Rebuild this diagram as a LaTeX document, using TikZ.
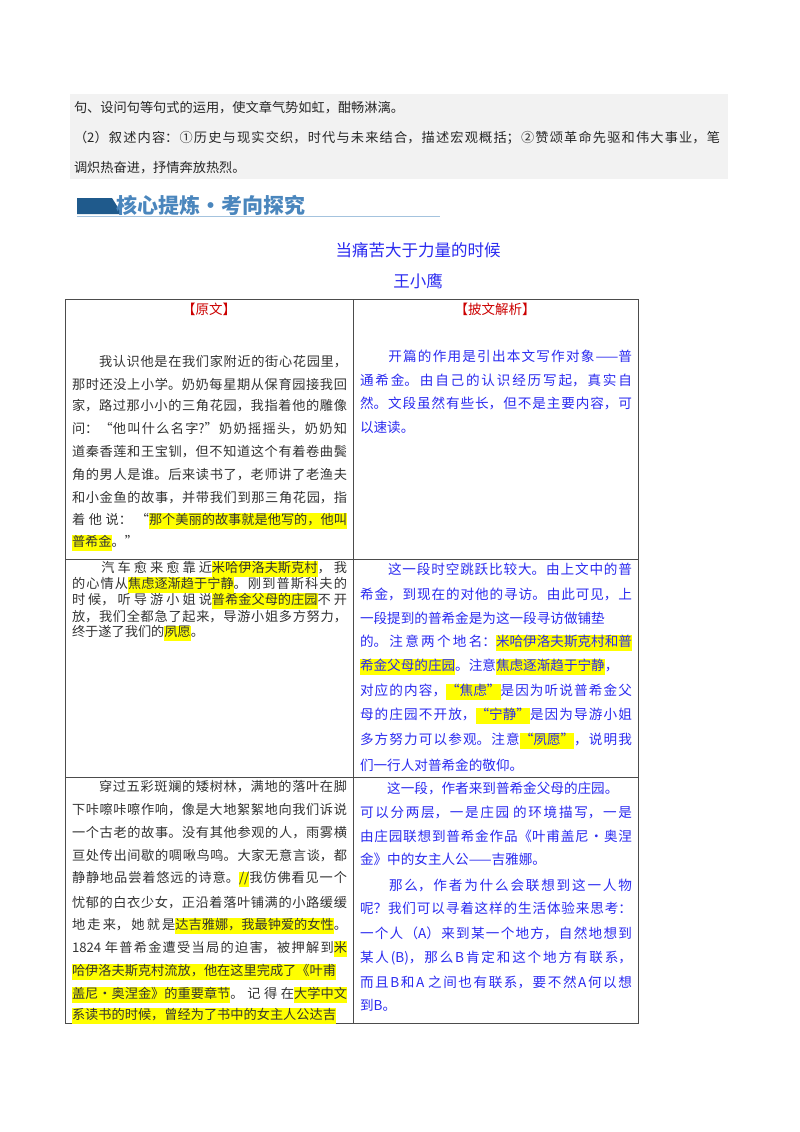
\documentclass[tikz,border=0pt]{standalone}
\usepackage{fontspec}
\setmainfont{Noto Sans CJK SC}
\usepackage{xcolor}
\definecolor{hly}{HTML}{FFFF00}
\definecolor{bt}{HTML}{2B2BF0}
\definecolor{gbox}{HTML}{F2F2F2}
\definecolor{hbar}{HTML}{1F5A8C}
\definecolor{htxt}{HTML}{4A86BD}
\newcommand\hl[1]{{\setlength\fboxsep{0pt}\colorbox{hly}{\strut #1}}}
\XeTeXlinebreaklocale "zh"
\XeTeXlinebreakskip=0pt plus 3pt
\begin{document}
\begin{tikzpicture}[x=1pt,y=-1pt,
  every node/.style={inner sep=0pt,outer sep=0pt},
  ln/.style={anchor=west,text width=#1,align=justify,execute at begin node={\parfillskip=0pt\relax}},
  ln/.default=275pt,
  lnl/.style={anchor=west,text width=#1,align=left},
  lnl/.default=275pt,
  lt/.style={font=\fontsize{13.2}{15}\selectfont,text=black!80},
  rt/.style={font=\fontsize{13.6}{15}\selectfont,text=bt},
  gt/.style={font=\fontsize{13.2}{15}\selectfont,text=black!85},
  tl/.style={draw=black!70,line width=0.9pt}]
\useasboundingbox (0,0) rectangle (800,1132);
\fill[white] (0,0) rectangle (800,1132);
% grey box
\fill[gbox] (70,94) rectangle (728,179);
\node[gt,lnl=646pt] (g1) at (74,108) {句、设问句等句式的运用，使文章气势如虹，酣畅淋漓。};
\node[gt,ln=646pt] (g2) at (74,138) {（2）叙述内容：①历史与现实交织，时代与未来结合，描述宏观概括；②赞颂革命先驱和伟大事业，笔};
\node[gt,lnl=646pt] (g3) at (74,168) {调炽热奋进，抒情奔放热烈。};
% header bar
\fill[hbar] (77,198) -- (112,198) -- (122,214) -- (77,214) -- cycle;
\draw[htxt!50,line width=0.8pt] (77,216) -- (440,216);
\node[anchor=west,font=\fontsize{21}{23}\selectfont\bfseries,text=htxt] (hd) at (116,205) {核心提炼·考向探究};
% title
\node[font=\fontsize{16.5}{18}\selectfont,text=bt] (t1) at (418,250) {当痛苦大于力量的时候};
\node[font=\fontsize{16.5}{18}\selectfont,text=bt] (t2) at (418,281) {王小鹰};
% table
\draw[tl] (65,299) rectangle (638,1023);
\draw[tl] (353,299) -- (353,1023);
\draw[tl] (65,559) -- (638,559);
\draw[tl] (65,777) -- (638,777);
\node[font=\fontsize{13.5}{15}\selectfont,text=red!80!black] (h1) at (209,309) {【原文】};
\node[font=\fontsize{13.5}{15}\selectfont,text=red!80!black] (h2) at (495,309) {【披文解析】};
% row1 left
\begin{scope}[every node/.append style={lt}]
\node[ln] (a1) at (72,362) {　　我认识他是在我们家附近的街心花园里，};
\node[ln] (a2) at (72,384) {那时还没上小学。奶奶每星期从保育园接我回};
\node[ln] (a3) at (72,406) {家，路过那小小的三角花园，我指着他的雕像};
\node[ln] (a4) at (72,429) {问：“他叫什么名字?”奶奶摇摇头，奶奶知};
\node[ln] (a5) at (72,452) {道秦香莲和王宝钏，但不知道这个有着卷曲鬓};
\node[ln] (a6) at (72,475) {角的男人是谁。后来读书了，老师讲了老渔夫};
\node[ln] (a7) at (72,498) {和小金鱼的故事，并带我们到那三角花园，指};
\node[ln] (a8) at (72,521) {着他说：“\hl{那个美丽的故事就是他写的，他叫}};
\node[lnl] (a9) at (72,543) {\hl{普希金}。”};
% row2 left
\node[ln] (b1) at (72,569) {　　汽车愈来愈靠近\hl{米哈伊洛夫斯克村}，我};
\node[ln] (b2) at (72,585) {的心情从\hl{焦虑逐渐趋于宁静}。刚到普斯科夫的};
\node[ln] (b3) at (72,601) {时候，听导游小姐说\hl{普希金父母的庄园}不开};
\node[ln] (b4) at (72,617) {放，我们全都急了起来，导游小姐多方努力，};
\node[lnl] (b5) at (72,633) {终于遂了我们的\hl{夙愿}。};
% row3 left
\node[ln] (c1) at (72,787) {　　穿过五彩斑斓的矮树林，满地的落叶在脚};
\node[ln] (c2) at (72,810) {下咔嚓咔嚓作响，像是大地絮絮地向我们诉说};
\node[ln] (c3) at (72,833) {一个古老的故事。没有其他参观的人，雨雾横};
\node[ln] (c4) at (72,856) {亘处传出间歇的啁啾鸟鸣。大家无意言谈，都};
\node[ln] (c5) at (72,879) {静静地品尝着悠远的诗意。\hl{//}我仿佛看见一个};
\node[ln] (c6) at (72,903) {忧郁的白衣少女，正沿着落叶铺满的小路缓缓};
\node[ln] (c7) at (72,926) {地走来，她就是\hl{达吉雅娜，我最钟爱的女性}。};
\node[ln] (c8) at (72,949) {1824 年普希金遭受当局的迫害，被押解到\hl{米}};
\node[ln] (c9) at (72,972) {\hl{哈伊洛夫斯克村流放，他在这里完成了《叶甫}};
\node[ln] (c10) at (72,995) {\hl{盖尼·奥涅金》的重要章节}。记得在\hl{大学中文}};
\node[ln] (c11) at (72,1016) {\hl{系读书的时候，曾经为了书中的女主人公达吉}};
\end{scope}
\begin{scope}[every node/.append style={rt}]
% row1 right
\node[ln=272pt] (d1) at (360,356) {　　开篇的作用是引出本文写作对象——普};
\node[ln=272pt] (d2) at (360,380) {通希金。由自己的认识经历写起，真实自};
\node[ln=272pt] (d3) at (360,403) {然。文段虽然有些长，但不是主要内容，可};
\node[lnl=272pt] (d4) at (360,427) {以速读。};
% row2 right
\node[ln=272pt] (e1) at (360,569) {　　这一段时空跳跃比较大。由上文中的普};
\node[ln=272pt] (e2) at (360,594) {希金，到现在的对他的寻访。由此可见，上};
\node[lnl=272pt] (e3) at (360,618) {一段提到的普希金是为这一段寻访做铺垫};
\node[ln=272pt] (e4) at (360,643) {的。注意两个地名：\hl{米哈伊洛夫斯克村和普}};
\node[lnl=272pt] (e5) at (360,667) {\hl{希金父母的庄园}。注意\hl{焦虑逐渐趋于宁静}，};
\node[ln=272pt] (e6) at (360,692) {对应的内容，\hl{“焦虑”}是因为听说普希金父};
\node[ln=272pt] (e7) at (360,716) {母的庄园不开放，\hl{“宁静”}是因为导游小姐};
\node[ln=272pt] (e8) at (360,741) {多方努力可以参观。注意\hl{“夙愿”}，说明我};
\node[lnl=272pt] (e9) at (360,765) {们一行人对普希金的敬仰。};
% row3 right
\node[lnl=272pt] (f1) at (360,788) {　　这一段，作者来到普希金父母的庄园。};
\node[ln=272pt] (f2) at (360,812) {可以分两层，一是庄园 的环境描写，一是};
\node[ln=272pt] (f3) at (360,836) {由庄园联想到普希金作品《叶甫盖尼·奥涅};
\node[lnl=272pt] (f4) at (360,859) {金》中的女主人公——吉雅娜。};
\node[ln=272pt] (f5) at (360,885) {　　那么，作者为什么会联想到这一人物};
\node[ln=272pt] (f6) at (360,908) {呢？我们可以寻着这样的生活体验来思考：};
\node[ln=272pt] (f7) at (360,933) {一个人（A）来到某一个地方，自然地想到};
\node[ln=272pt] (f8) at (360,958) {某人(B)，那么B肯定和这个地方有联系，};
\node[ln=272pt] (f9) at (360,982) {而且B和A 之间也有联系，要不然A何以想};
\node[lnl=272pt] (f10) at (360,1005) {到B。};
\end{scope}
\end{tikzpicture}
\end{document}
